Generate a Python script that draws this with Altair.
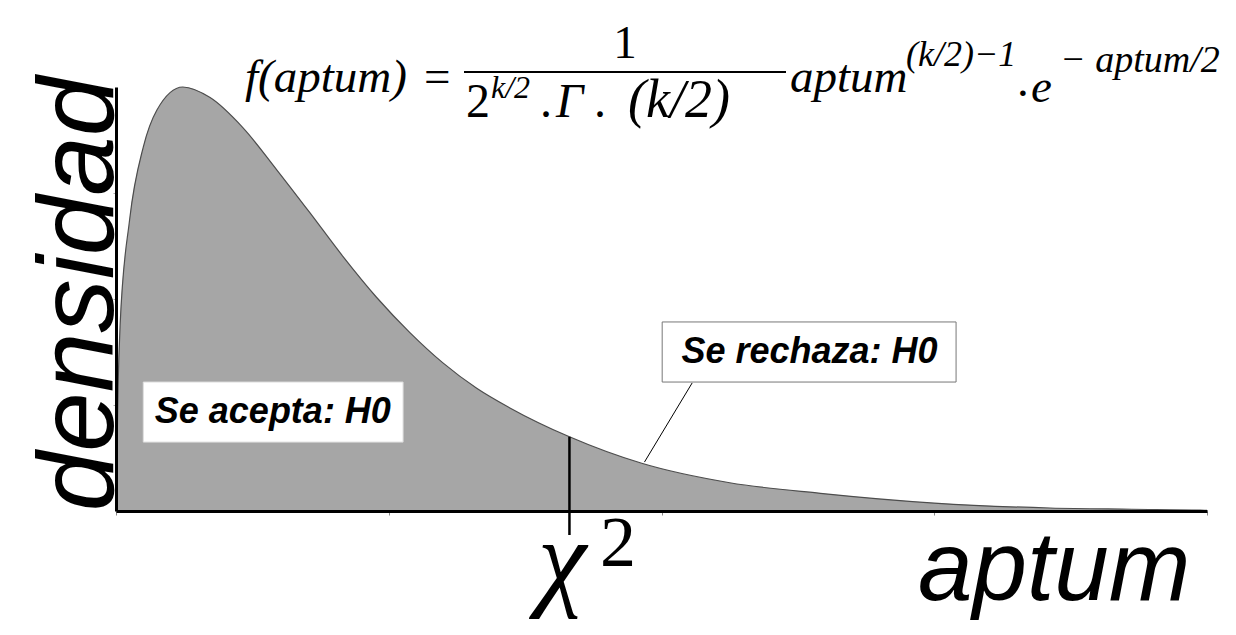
import altair as alt
import pandas as pd

# ---- curve (chi-square density shape) ----
aptum = [0.0, 0.03, 0.06, 0.2, 0.4, 0.6, 0.98, 1.38, 1.86, 2.36, 2.84, 3.33, 3.82,
         4.31, 4.79, 5.29, 5.77, 6.65, 7.71, 9.0, 10.33, 12.0, 13.7, 14.9, 15.9, 16.0]
densidad = [0.0, 0.070, 0.105, 0.165, 0.206, 0.227, 0.240, 0.234, 0.217, 0.193, 0.169,
            0.144, 0.121, 0.101, 0.084, 0.0695, 0.0585, 0.042, 0.027, 0.016, 0.010, 0.0045,
            0.0017, 0.001, 0.0005, 0.0004]

x_ticks = [0, 4, 8, 12, 16]
y_ticks = [0.06, 0.12, 0.18]

chi_x = [6.65]
chi_y = [0.042]
chi_y2 = [-0.0136]

box_labels = ["Se acepta: H0", "Se rechaza: H0"]
box_x1 = [0.40, 8.01]
box_x2 = [4.21, 12.32]
box_y1 = [0.039, 0.073]
box_y2 = [0.073, 0.107]
box_tx = [2.30, 10.17]
box_ty = [0.056, 0.090]
box_stroke = ["#dddddd", "#777777"]

leader_x = [8.45]
leader_y = [0.0725]
leader_x2 = [7.75]
leader_y2 = [0.0277]

curve = pd.DataFrame({"aptum": aptum, "densidad": densidad})
boxes = pd.DataFrame({"label": box_labels, "x1": box_x1, "x2": box_x2, "y1": box_y1,
                      "y2": box_y2, "tx": box_tx, "ty": box_ty, "stroke": box_stroke})
chi = pd.DataFrame({"x": chi_x, "y": chi_y, "y2": chi_y2})
leader = pd.DataFrame({"x": leader_x, "y": leader_y, "x2": leader_x2, "y2": leader_y2})
one = pd.DataFrame({"d": [0]})

xs = alt.Scale(domain=[0, 16], nice=False, zero=False)
ys = alt.Scale(domain=[0, 0.24], nice=False)

xaxis = alt.Axis(values=x_ticks, labels=False, title=None, grid=False, domainColor="black",
                 domainWidth=3, tickColor="#888888", tickSize=4, tickWidth=1, zindex=1)
yaxis = alt.Axis(values=y_ticks, labels=False, title=None, grid=False, domainColor="black",
                 domainWidth=3, tickColor="#aaaaaa", tickSize=3, tickWidth=1, zindex=1)

area = alt.Chart(curve).mark_area(color="#a6a6a6", interpolate="monotone").encode(
    x=alt.X("aptum:Q", scale=xs, axis=xaxis),
    y=alt.Y("densidad:Q", scale=ys, axis=yaxis),
)
line = alt.Chart(curve).mark_line(color="#4d4d4d", strokeWidth=1.2, interpolate="monotone").encode(
    x=alt.X("aptum:Q", scale=xs), y=alt.Y("densidad:Q", scale=ys))

chi_rule = alt.Chart(chi).mark_rule(color="black", strokeWidth=2.5, clip=False).encode(
    x=alt.X("x:Q", scale=xs), y=alt.Y("y:Q", scale=ys), y2="y2:Q")

lead = alt.Chart(leader).mark_rule(color="black", strokeWidth=1).encode(
    x=alt.X("x:Q", scale=xs), y=alt.Y("y:Q", scale=ys), x2="x2:Q", y2="y2:Q")

rects = alt.Chart(boxes).mark_rect(fill="white", strokeWidth=1).encode(
    x=alt.X("x1:Q", scale=xs), x2="x2:Q", y=alt.Y("y1:Q", scale=ys), y2="y2:Q",
    stroke=alt.Stroke("stroke:N", scale=None))
rect_text = alt.Chart(boxes).mark_text(font="Liberation Sans", fontWeight="bold",
                                       fontStyle="italic", fontSize=36, color="black",
                                       baseline="middle", align="center").encode(
    x=alt.X("tx:Q", scale=xs), y=alt.Y("ty:Q", scale=ys), text="label:N")


def txt(s, x, y, size, font="Liberation Serif", style="normal", align="left",
        baseline="alphabetic", angle=0):
    return alt.Chart(one).mark_text(font=font, fontSize=size, fontStyle=style, align=align,
                                    baseline=baseline, angle=angle, color="black").encode(
        x=alt.value(x), y=alt.value(y), text=alt.value(s))


ox, oy = 116, 87  # plot origin on page
serif = "Liberation Serif"
texts = [
    txt("densidad", 113 - ox, 294 - oy, 107, font="Liberation Sans", style="italic",
        align="center", angle=270),
    txt("aptum", 918 - ox, 600 - oy, 98, font="Liberation Sans", style="italic"),
    txt("χ", 562 - ox, 596 - oy, 110, font=serif, style="italic", align="center"),
    txt("2", 600 - ox, 566 - oy, 72, font=serif),
    txt("f(aptum)", 245 - ox, 92 - oy, 47, style="italic"),
    txt("=", 424 - ox, 92 - oy, 47),
    txt("1", 625 - ox, 58 - oy, 47, align="center"),
    txt("2", 466 - ox, 117 - oy, 48),
    txt("k/2", 491 - ox, 98 - oy, 32, style="italic"),
    txt(".", 540 - ox, 117 - oy, 48),
    txt("Γ", 556 - ox, 117 - oy, 48, style="italic"),
    txt(".", 594 - ox, 117 - oy, 48),
    txt("(k/2)", 628 - ox, 117 - oy, 54, style="italic"),
    txt("aptum", 790 - ox, 92 - oy, 47, style="italic"),
    txt("(k/2)−1", 906 - ox, 66 - oy, 36, style="italic"),
    txt(".", 1017 - ox, 96 - oy, 47),
    txt("e", 1031 - ox, 102 - oy, 47, style="italic"),
    txt("− aptum/2", 1060 - ox, 72 - oy, 38, style="italic"),
]
bar = alt.Chart(one).mark_rule(color="black", strokeWidth=2).encode(
    x=alt.value(464 - ox), x2=alt.value(786 - ox), y=alt.value(72 - oy))

chart = alt.layer(area, line, chi_rule, lead, rects, rect_text, bar, *texts).properties(
    width=1091, height=424,
    autosize=alt.AutoSizeParams(type="none"),
    padding={"left": 108, "top": 79, "right": 20, "bottom": 110},
    background="white",
).configure_view(stroke=None)

chart.save("out.html", embed_options={"renderer": "svg", "actions": False})
